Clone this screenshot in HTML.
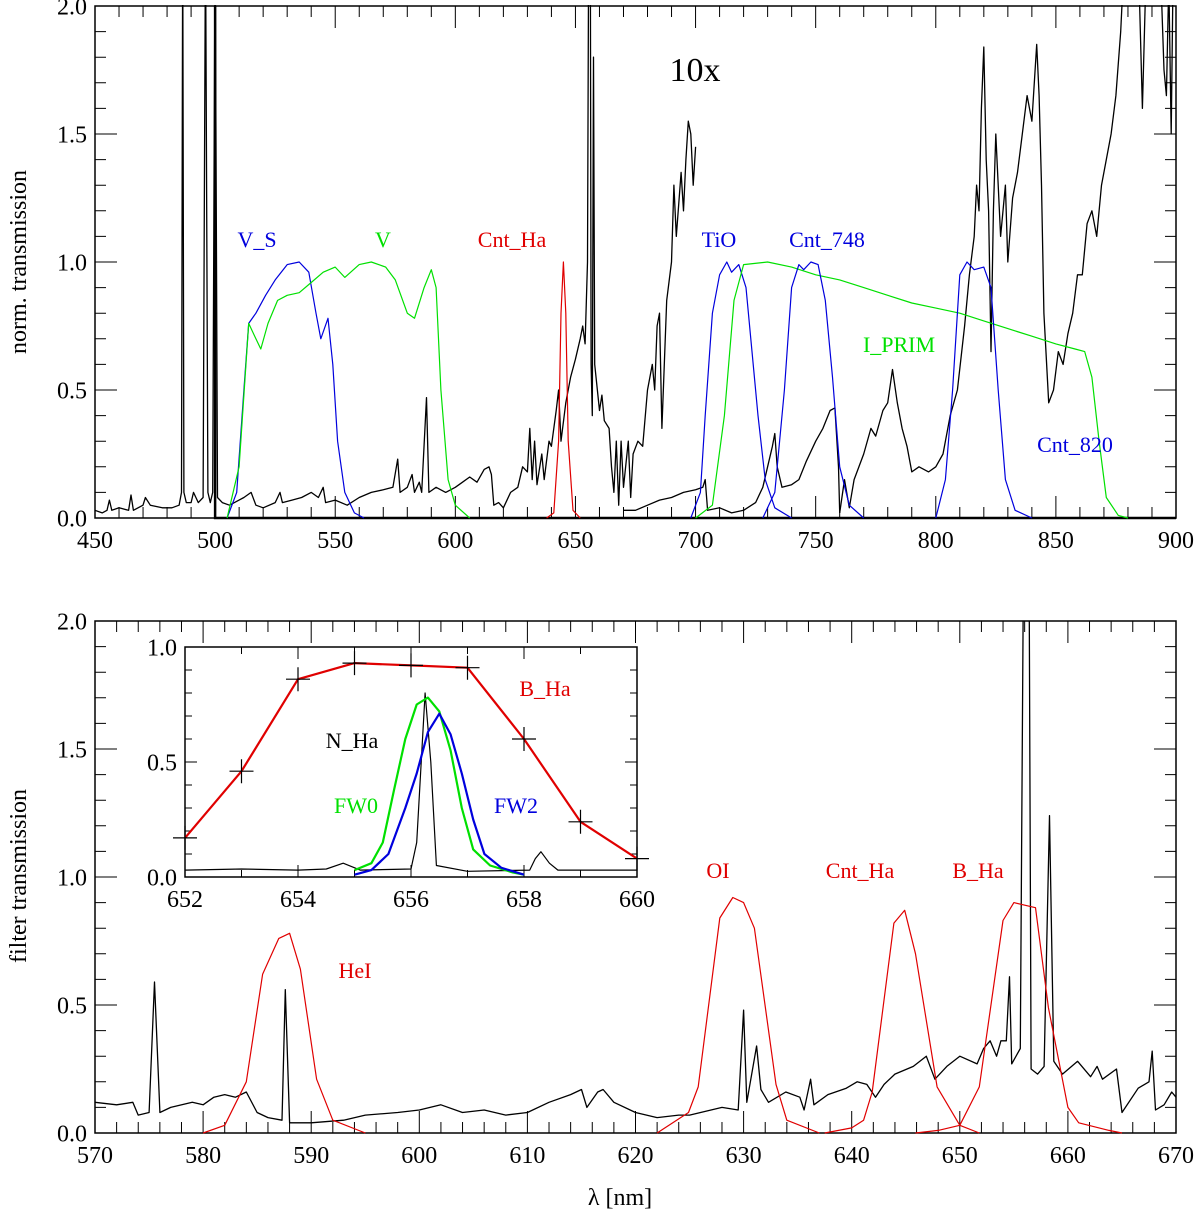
<!DOCTYPE html>
<html><head><meta charset="utf-8">
<style>
html,body{margin:0;padding:0;background:#fff;}
svg{display:block;font-family:"Liberation Serif",serif;}
</style></head>
<body>
<svg id="chart" width="1200" height="1215" viewBox="0 0 1200 1215" xmlns="http://www.w3.org/2000/svg">
<defs>
<clipPath id="clipTop"><rect x="95" y="5" width="1081" height="514"/></clipPath>
<clipPath id="clipBot"><rect x="95" y="621" width="1081" height="513"/></clipPath>
<clipPath id="clipIn"><rect x="185" y="647" width="452" height="231"/></clipPath>
</defs>
<g id="top"></g>
<g id="bot"></g>
<g id="ins"></g>
</svg>
<script>
// ---------- TOP PANEL DATA (wavelength nm, value) ----------
const topXTicks = [450,500,550,600,650,700,750,800,850,900];
const topYTicks = ["0.0","0.5","1.0","1.5","2.0"];
const specA = [[450,0.03],[453,0.02],[455,0.03],[456,0.07],[457,0.03],[460,0.04],[464,0.03],[465,0.09],[466,0.03],[470,0.05],[471,0.08],[473,0.05],[478,0.04],[482,0.04],[485,0.05],[486,0.1],[486.5,2.3],[487,0.1],[488,0.06],[490,0.06],[491,0.1],[493,0.06],[495,0.08],[496,2.3],[497,0.1],[498,0.06],[499,0.1],[500,2.3],[501,0.08],[503,0.06],[506,0.05],[510,0.07],[512,0.08],[515,0.1],[517,0.05],[520,0.04],[525,0.06],[527,0.1],[528,0.06],[532,0.07],[536,0.08],[540,0.1],[543,0.08],[545,0.12],[546,0.06],[550,0.07],[555,0.05],[560,0.08],[565,0.1],[570,0.11],[574,0.12],[576,0.23],[577,0.1],[580,0.12],[582,0.17],[583,0.1],[585,0.14],[586,0.1],[588,0.47],[589,0.1],[592,0.12],[596,0.1],[600,0.12],[603,0.14],[606,0.16],[609,0.14],[612,0.19],[614,0.2],[615,0.17],[616,0.05],[618,0.06],[620,0.04],[623,0.1],[626,0.12],[628,0.2],[630,0.18],[631,0.35],[632,0.15],[633,0.3],[634,0.13],[636,0.25],[637,0.15],[639,0.3],[640,0.28],[642,0.42],[643,0.5],[644,0.3],[646,0.45],[648,0.55],[650,0.62],[652,0.7],[653,0.75],[654,0.68],[655,1.0],[655.5,2.3],[656.2,2.3],[656.5,0.6],[657,0.4],[657.5,1.8],[658,0.6],[660,0.42],[661,0.48],[662,0.38],[664,0.35],[665,0.2],[666,0.1],[667,0.3],[668,0.05],[669,0.3],[670,0.12],[672,0.3],[673,0.08],[674,0.25],[676,0.3],[678,0.28],[680,0.5],[682,0.6],[683,0.5],[684,0.75],[685,0.8],[686,0.35],[688,0.85],[690,1.0],[691,1.3],[692,1.1],[694,1.35],[695,1.2],[696,1.4],[697,1.55],[698,1.5],[699,1.3],[700,1.45]];
const specB = [[670,0.03],[675,0.03],[680,0.05],[685,0.07],[690,0.08],[695,0.1],[700,0.11],[703,0.12],[704,0.15],[705,0.03],[710,0.04],[715,0.02],[720,0.03],[725,0.06],[728,0.12],[730,0.2],[732,0.28],[733,0.33],[734,0.2],[736,0.12],[740,0.13],[743,0.15],[746,0.22],[750,0.3],[753,0.35],[756,0.42],[758,0.43],[759.5,0.2],[760,0.02]];
const specC = [[760,0.02],[762,0.15],[764,0.04],[766,0.15],[770,0.25],[773,0.35],[775,0.32],[778,0.42],[780,0.45],[782,0.58],[784,0.45],[786,0.35],[788,0.28],[790,0.18],[793,0.2],[797,0.18],[800,0.2],[803,0.25],[806,0.4],[809,0.5],[812,0.75],[814,0.95],[816,1.1],[817,1.3],[818,1.2],[819,1.6],[820,1.84],[821,1.4],[822,1.2],[823,0.65],[824,1.2],[825,1.5],[827,1.1],[829,1.3],[830,1.0],[832,1.25],[834,1.35],[836,1.5],[838,1.65],[840,1.55],[842,1.85],[843,1.65],[844,1.3],[845,0.8],[847,0.45],[849,0.5],[851,0.65],[853,0.6],[855,0.72],[857,0.8],[859,0.95],[861,0.95],[863,1.15],[865,1.2],[867,1.1],[869,1.3],[871,1.4],[873,1.5],[875,1.65],[877,1.9],[879,2.3],[884,2.3],[886,1.6],[888,2.3],[893,2.3],[895,1.75],[896,1.65],[897,2.1],[898,1.5],[899,2.3],[900,2.3]];
const filtVS = [[505,0],[509,0.1],[512,0.5],[514,0.76],[517,0.8],[521,0.87],[525,0.93],[530,0.99],[535,1.0],[539,0.96],[542,0.8],[544,0.7],[547,0.78],[549,0.6],[551,0.3],[554,0.1],[558,0.02],[562,0]];
const filtV = [[505,0],[510,0.2],[514,0.76],[517,0.7],[519,0.66],[522,0.76],[526,0.85],[530,0.87],[535,0.88],[540,0.92],[545,0.96],[550,0.98],[554,0.94],[560,0.99],[565,1.0],[571,0.98],[575,0.93],[580,0.8],[583,0.78],[587,0.9],[590,0.97],[592,0.9],[594,0.5],[597,0.15],[600,0.05],[606,0]];
const filtCntHa = [[638,0],[641,0.02],[643,0.3],[644,0.8],[645,1.0],[646,0.8],[647,0.3],[649,0.03],[652,0]];
const filtTiO = [[698,0],[702,0.1],[704,0.4],[707,0.8],[710,0.95],[713,1.0],[715,0.96],[718,0.99],[721,0.9],[723,0.7],[726,0.4],[729,0.15],[733,0.04],[740,0]];
const filtIPRIM = [[700,0],[707,0.05],[712,0.4],[716,0.85],[720,0.99],[730,1.0],[740,0.98],[750,0.95],[760,0.93],[770,0.9],[780,0.87],[790,0.84],[800,0.82],[810,0.8],[820,0.77],[830,0.74],[840,0.71],[850,0.68],[858,0.66],[862,0.65],[865,0.55],[868,0.3],[871,0.08],[876,0.01],[880,0]];
const filtC748 = [[728,0],[733,0.1],[737,0.5],[740,0.9],[743,0.99],[745,0.97],[748,1.0],[751,0.99],[754,0.85],[757,0.55],[760,0.2],[764,0.05],[770,0]];
const filtC820 = [[800,0],[804,0.15],[807,0.5],[810,0.95],[813,1.0],[816,0.97],[820,0.98],[823,0.9],[826,0.5],[829,0.15],[833,0.03],[840,0]];
// ---------- BOTTOM PANEL DATA ----------
const botXTicks = [570,580,590,600,610,620,630,640,650,660,670];
const botYTicks = ["0.0","0.5","1.0","1.5","2.0"];
const specBot = [[570,0.12],[572,0.11],[573.5,0.12],[574,0.07],[575,0.08],[575.5,0.59],[576,0.08],[577,0.1],[579,0.12],[580,0.11],[581,0.14],[582,0.15],[583,0.14],[584,0.16],[585,0.08],[586,0.06],[587.3,0.05],[587.6,0.56],[588,0.04],[590,0.04],[593,0.05],[595,0.07],[598,0.08],[600,0.09],[602,0.11],[604,0.08],[606,0.09],[608,0.07],[610,0.08],[612,0.12],[614,0.15],[615,0.17],[615.5,0.1],[616.5,0.16],[617,0.17],[618,0.12],[620,0.08],[622,0.06],[624,0.07],[625,0.07],[628,0.1],[629.5,0.09],[630,0.48],[630.3,0.12],[631.2,0.34],[631.6,0.17],[632.3,0.12],[633.9,0.16],[635.2,0.14],[635.6,0.09],[636.2,0.21],[636.5,0.11],[637.8,0.15],[639.5,0.175],[640.5,0.2],[641.4,0.19],[642.2,0.14],[643,0.19],[644,0.23],[645.7,0.26],[646.9,0.3],[647.7,0.21],[648.8,0.26],[650,0.3],[651.6,0.27],[652.2,0.33],[652.8,0.36],[653.4,0.3],[653.8,0.36],[654.3,0.36],[654.6,0.61],[654.8,0.27],[655.6,0.33],[655.9,2.3],[656.4,2.3],[656.6,0.25],[657.2,0.23],[657.8,0.26],[658.3,1.24],[658.7,0.28],[659.5,0.23],[660.9,0.28],[662.1,0.22],[662.7,0.26],[663.2,0.21],[664.5,0.25],[665,0.08],[666.5,0.175],[667.5,0.2],[667.8,0.32],[668.1,0.09],[668.9,0.11],[669.6,0.16],[670,0.14]];
const botHeI = [[580,0],[582,0.03],[584,0.2],[585.5,0.62],[587,0.76],[588,0.78],[589,0.64],[590.5,0.21],[592,0.05],[595,0]];
const botOI = [[622,0],[624.9,0.08],[625.8,0.18],[627.8,0.84],[629,0.92],[630,0.9],[631,0.8],[633,0.19],[634,0.05],[637,0]];
const botCntHa = [[637.5,0],[640,0.02],[641.1,0.05],[641.9,0.16],[643.9,0.82],[644.9,0.87],[645.9,0.7],[647.9,0.18],[650,0.03],[651.8,0]];
const botBHa = [[645.9,0],[648,0.01],[650,0.03],[651.8,0.18],[654,0.83],[655,0.9],[657,0.88],[658.2,0.49],[660,0.1],[661,0.04],[663.8,0.01],[665,0]];
// ---------- INSET DATA ----------
const insXTicks = [652,654,656,658,660];
const insYTicks = ["0.0","0.5","1.0"];
const insBHaWl = [652,653,654,655,656,657,658,659,660];
const insBHaVal = [0.17,0.46,0.86,0.93,0.92,0.91,0.6,0.24,0.08];
const insNHa = [[652,0.03],[653,0.035],[654,0.03],[654.5,0.035],[654.8,0.06],[655.1,0.03],[656,0.035],[656.1,0.15],[656.25,0.8],[656.35,0.5],[656.45,0.05],[657,0.025],[658.1,0.03],[658.2,0.08],[658.3,0.11],[658.45,0.06],[658.6,0.03],[660,0.03]];
const insFW0 = [[655,0.03],[655.3,0.06],[655.5,0.15],[655.7,0.38],[655.9,0.6],[656.1,0.75],[656.3,0.78],[656.5,0.72],[656.7,0.55],[656.9,0.3],[657.1,0.12],[657.4,0.05],[657.8,0.02],[658,0.01]];
const insFW2 = [[655,0.01],[655.3,0.03],[655.6,0.1],[655.9,0.3],[656.1,0.45],[656.3,0.63],[656.5,0.71],[656.7,0.62],[656.9,0.45],[657.1,0.25],[657.3,0.1],[657.6,0.04],[658,0.01]];

const NS="http://www.w3.org/2000/svg";
function mk(tag, attrs, parent){const e=document.createElementNS(NS,tag);for(const k in attrs)e.setAttribute(k,attrs[k]);parent.appendChild(e);return e;}
function axis(x0,x1,y0,y1,xmin,xmax,ymin,ymax){return {x:v=>x0+(v-xmin)/(xmax-xmin)*(x1-x0), y:v=>y0-(v-ymin)/(ymax-ymin)*(y0-y1), x0,x1,y0,y1};}
function line(g,ax,data,color,w,name,clip){
  const p=mk('polyline',{points:data.map(d=>ax.x(d[0]).toFixed(1)+','+ax.y(d[1]).toFixed(1)).join(' '),fill:'none',stroke:color,'stroke-width':w,'stroke-linejoin':'round','clip-path':'url(#'+clip+')'},g);
  
  
  return p;
}
function txt(g,x,y,s,size,color,anchor,name,extra){
  const t=mk('text',{x:x,y:y,'font-size':size,fill:color,'text-anchor':anchor||'middle'},g);
  t.textContent=s;
  
  
  if(extra)for(const k in extra)t.setAttribute(k,extra[k]);
  return t;
}
function frame(g,ax,xt,minorX,yt,yminor,yStep,fs,nameP,majLen,minLen){
  const r=mk('rect',{x:ax.x0,y:ax.y1,width:ax.x1-ax.x0,height:ax.y0-ax.y1,fill:'none',stroke:'#000','stroke-width':1.5},g);
  
  
  let d='';
  const xs=xt[0], xe=xt[xt.length-1];
  for(let v=xs; v<=xe+1e-9; v+=minorX){
    const X=ax.x(v); const major=xt.some(t=>Math.abs(t-v)<1e-6); const L=major?majLen:minLen;
    d+=`M${X},${ax.y0}v${-L}M${X},${ax.y1}v${L}`;
  }
  for(let i=0;i<=Math.round((yt.length-1)*yStep/yminor);i++){
    const v=i*yminor; const Y=ax.y(v); const major=Math.abs(v/yStep-Math.round(v/yStep))<1e-6; const L=major?majLen:minLen;
    d+=`M${ax.x0},${Y}h${L}M${ax.x1},${Y}h${-L}`;
  }
  const p=mk('path',{d:d,stroke:'#000','stroke-width':1,fill:'none'},g);
  
  
  xt.forEach(v=>txt(g,ax.x(v),ax.y0+fs*1.25,String(v),fs,'#000','middle',nameP+'-x-tick-label'));
  yt.forEach((s,i)=>txt(g,ax.x0-8,ax.y(i*yStep)+fs*0.35,s,fs,'#000','end',nameP+'-y-tick-label'));
}
const BLUE='#0000dd', GREEN='#00e000', RED='#e00000';
// TOP
const gt=document.getElementById('top');
const at=axis(95,1176,518,6,450,900,0,2);
frame(gt,at,topXTicks,10,topYTicks,0.1,0.5,24,'top',22,11);
line(gt,at,specA,'#000',1.3,'spectrum-line','clipTop');
line(gt,at,specB,'#000',1.3,'spectrum-line-low','clipTop');
line(gt,at,specC,'#000',1.3,'spectrum-line-red','clipTop');
{const l=mk('path',{d:`M${at.x(500)},${at.y(2)}V${at.y(0)}H${at.x(900)}`,stroke:'#000','stroke-width':2.5,fill:'none'},gt);

}
line(gt,at,filtVS,BLUE,1.2,'filter-V_S','clipTop');
line(gt,at,filtV,GREEN,1.2,'filter-V','clipTop');
line(gt,at,filtCntHa,RED,1.2,'filter-Cnt_Ha','clipTop');
line(gt,at,filtTiO,BLUE,1.2,'filter-TiO','clipTop');
line(gt,at,filtIPRIM,GREEN,1.2,'filter-I_PRIM','clipTop');
line(gt,at,filtC748,BLUE,1.2,'filter-Cnt_748','clipTop');
line(gt,at,filtC820,BLUE,1.2,'filter-Cnt_820','clipTop');
txt(gt,695,81,'10x',34,'#000','middle','scale-label');
txt(gt,257,247,'V_S',22,BLUE,'middle','label-V_S');
txt(gt,383,247,'V',22,GREEN,'middle','label-V');
txt(gt,512,247,'Cnt_Ha',22,RED,'middle','label-Cnt_Ha');
txt(gt,719,247,'TiO',22,BLUE,'middle','label-TiO');
txt(gt,827,247,'Cnt_748',22,BLUE,'middle','label-Cnt_748');
txt(gt,899,352,'I_PRIM',22,GREEN,'middle','label-I_PRIM');
txt(gt,1075,452,'Cnt_820',22,BLUE,'middle','label-Cnt_820');
txt(gt,26,262,'norm. transmission',24,'#000','middle','top-y-axis-title',{transform:'rotate(-90 26 262)'});
// BOTTOM
const gb=document.getElementById('bot');
const ab=axis(95,1176,1133,621,570,670,0,2);
frame(gb,ab,botXTicks,2,botYTicks,0.1,0.5,24,'bottom',22,11);
line(gb,ab,specBot,'#000',1.3,'spectrum-line','clipBot');
line(gb,ab,botHeI,RED,1.2,'filter-HeI','clipBot');
line(gb,ab,botOI,RED,1.2,'filter-OI','clipBot');
line(gb,ab,botCntHa,RED,1.2,'filter-Cnt_Ha','clipBot');
line(gb,ab,botBHa,RED,1.2,'filter-B_Ha','clipBot');
txt(gb,355,978,'HeI',22,RED,'middle','label-HeI');
txt(gb,718,878,'OI',22,RED,'middle','label-OI');
txt(gb,860,878,'Cnt_Ha',22,RED,'middle','label-Cnt_Ha-bottom');
txt(gb,978,878,'B_Ha',22,RED,'middle','label-B_Ha-bottom');
txt(gb,26,876,'filter transmission',24,'#000','middle','bottom-y-axis-title',{transform:'rotate(-90 26 876)'});
txt(gb,620,1205,'λ  [nm]',24,'#000','middle','x-axis-title');
// INSET
const gi=document.getElementById('ins');
const bg=mk('rect',{x:185,y:647,width:452,height:231,fill:'#fff'},gi);


const ai=axis(185,637,877,647,652,660,0,1);
frame(gi,ai,insXTicks,1,insYTicks,0.1,0.5,24,'inset',12,7);
line(gi,ai,insNHa,'#000',1.2,'inset-N_Ha-line','clipIn');
line(gi,ai,insFW0,GREEN,2.2,'inset-FW0-line','clipIn');
line(gi,ai,insFW2,BLUE,2.2,'inset-FW2-line','clipIn');
line(gi,ai,insBHaWl.map((w,i)=>[w,insBHaVal[i]]),RED,2.2,'inset-B_Ha-line','clipIn');
insBHaWl.forEach((w,i)=>{
  const X=ai.x(w),Y=ai.y(insBHaVal[i]);
  const m=mk('path',{d:`M${X-12},${Y}h24M${X},${Y-12}v24`,stroke:'#000','stroke-width':1.2},gi);
  
  
});
txt(gi,545,696,'B_Ha',22,RED,'middle','inset-label-B_Ha');
txt(gi,352,748,'N_Ha',22,'#000','middle','inset-label-N_Ha');
txt(gi,356,813,'FW0',22,GREEN,'middle','inset-label-FW0');
txt(gi,516,813,'FW2',22,BLUE,'middle','inset-label-FW2');
</script>
</body></html>
